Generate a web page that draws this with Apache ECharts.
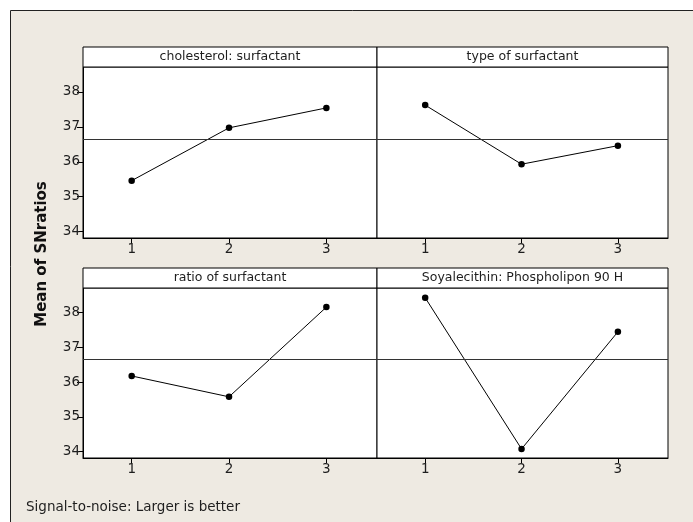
<!DOCTYPE html>
<html><head><meta charset="utf-8">
<script src="https://cdn.jsdelivr.net/npm/echarts@6/dist/echarts.min.js"></script>
<style>html,body{margin:0;padding:0;background:#fff}#c{width:693px;height:522px}</style>
</head><body><div id="c"></div>
<script>
const levels = [1, 2, 3];
const panelTitles = ['cholesterol: surfactant', 'type of surfactant', 'ratio of surfactant', 'Soyalecithin: Phospholipon 90 H'];
const cholesterolSurfactant = [35.46, 36.97, 37.54];
const typeOfSurfactant = [37.62, 35.93, 36.46];
const ratioOfSurfactant = [36.18, 35.58, 38.16];
const soyalecithin = [38.43, 34.08, 37.45];
const yTicks = [34, 35, 36, 37, 38];
const grandMean = 36.65;
const yTitle = 'Mean of SNratios';
const footer = 'Signal-to-noise: Larger is better';

const seriesValues = [cholesterolSurfactant, typeOfSurfactant, ratioOfSurfactant, soyalecithin];
const font = 'DejaVu Sans, sans-serif';
const txt = '#1e1e1e';
const panels = [
  {left: 83, top: 67, width: 294, height: 171},
  {left: 377, top: 67, width: 291, height: 171},
  {left: 83, top: 288, width: 294, height: 170},
  {left: 377, top: 288, width: 291, height: 170}
];
const stripH = 20;

const grid = panels.map(p => ({left: p.left, top: p.top, width: p.width, height: p.height, show: true, borderColor: '#000', borderWidth: 1, backgroundColor: '#fff', containLabel: false}));
const xAxis = panels.map((p, i) => ({
  type: 'value', gridIndex: i, min: 0.5, max: 3.52,
  splitLine: {show: false},
  axisLine: {show: true, onZero: false, lineStyle: {color: '#000', width: 1}},
  axisTick: {show: true, customValues: levels, length: 5, lineStyle: {color: '#000'}},
  axisLabel: {show: true, customValues: levels, color: txt, fontSize: 13.5, fontFamily: font, margin: 4}
}));
const yAxis = panels.map((p, i) => ({
  type: 'value', gridIndex: i, min: 33.82, max: 38.71,
  splitLine: {show: false},
  axisLine: {show: i % 2 === 0, onZero: false, lineStyle: {color: '#000'}},
  axisTick: {show: i % 2 === 0, customValues: yTicks, length: 6, lineStyle: {color: '#000'}},
  axisLabel: {show: i % 2 === 0, customValues: yTicks, color: txt, fontSize: 13.5, fontFamily: font, margin: 3}
}));
const series = seriesValues.map((vals, i) => ({
  type: 'line', xAxisIndex: i, yAxisIndex: i,
  data: vals.map((v, k) => [levels[k], v]),
  symbol: 'circle', symbolSize: 6.5,
  itemStyle: {color: '#000'},
  lineStyle: {color: '#000', width: 1},
  animation: false,
  markLine: {silent: true, symbol: 'none', label: {show: false},
    lineStyle: {color: '#333', width: 1, type: 'solid'},
    data: [{yAxis: grandMean}]}
}));

const graphic = [
  {type: 'rect', z: -10, shape: {x: 10.5, y: 10.5, width: 800, height: 600}, style: {fill: '#eeeae2', stroke: '#222', lineWidth: 1}}
];
panels.forEach((p, i) => {
  graphic.push({type: 'rect', z: 5, shape: {x: p.left, y: p.top - stripH, width: p.width, height: stripH}, style: {fill: '#fff', stroke: '#000', lineWidth: 1}});
  graphic.push({type: 'text', z: 6, x: p.left + p.width / 2, y: p.top - stripH / 2,
    style: {text: panelTitles[i], font: '12.5px ' + font, fill: txt, align: 'center', verticalAlign: 'middle'}});
});
graphic.push({type: 'text', x: 42, y: 254, rotation: Math.PI / 2,
  style: {text: yTitle, font: 'bold 15px ' + font, fill: '#111', align: 'center', verticalAlign: 'middle'}});
graphic.push({type: 'text', x: 26, y: 507,
  style: {text: footer, font: '13.5px ' + font, fill: txt, align: 'left', verticalAlign: 'middle'}});

const chart = echarts.init(document.getElementById('c'));
chart.setOption({backgroundColor: '#fff', animation: false, grid, xAxis, yAxis, series, graphic});
</script></body></html>
